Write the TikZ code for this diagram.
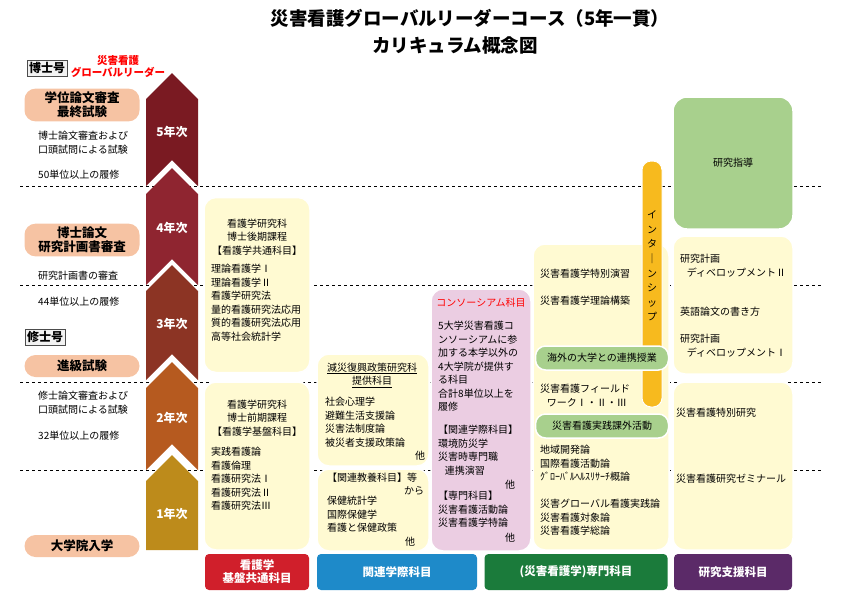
\documentclass[tikz,border=0pt]{standalone}
\usepackage{fontspec}
\setmainfont{Noto Sans CJK JP}
\usetikzlibrary{shadows}

\definecolor{peach}{HTML}{F6C3A3}
\definecolor{cream}{HTML}{FFFAD2}
\definecolor{leaf}{HTML}{A8D08D}
\definecolor{lilac}{HTML}{EBCDE2}
\definecolor{amber}{HTML}{F7BA1E}
\definecolor{yrfive}{HTML}{7A1A22}
\definecolor{yrfour}{HTML}{8F2530}
\definecolor{yrthree}{HTML}{8C3424}
\definecolor{yrtwo}{HTML}{B65A1F}
\definecolor{yrone}{HTML}{BD8B1B}
\definecolor{ftred}{HTML}{D01F2B}
\definecolor{ftblue}{HTML}{1E8AC9}
\definecolor{ftgreen}{HTML}{1B7B3B}
\definecolor{ftpurple}{HTML}{5B2A68}

\tikzset{
	exam/.style={rectangle, rounded corners=11pt, fill=peach, minimum width=115pt, font=\fontsize{12.5}{14}\selectfont\bfseries, align=center},
	degree/.style={rectangle, draw=black!70, fill=black!5, drop shadow={shadow xshift=1pt, shadow yshift=-1pt}, font=\fontsize{12}{13}\selectfont\bfseries, inner sep=2pt},
	note/.style={anchor=north west, align=left, font=\fontsize{10}{13.5}\selectfont, inner sep=0pt},
	panel/.style={rectangle, rounded corners=12pt, fill=cream, draw=white, line width=1.5pt},
	pill/.style={rectangle, rounded corners=10pt, fill=leaf, draw=white, line width=1.5pt, font=\fontsize{10}{11}\selectfont},
	footer/.style={rectangle, rounded corners=4pt, text=white, font=\fontsize{11.5}{13}\selectfont\bfseries, align=center},
	year/.style={text=white, font=\fontsize{12}{14}\selectfont\bfseries}
}

\newcommand{\Chevron}[3]{
	\fill[#3] (146,#1+26) -- (172,#1) -- (198,#1+26) -- (198,#2) -- (172,#2-26) -- (146,#2) -- cycle;
}

\begin{document}
\begin{tikzpicture}[x=1pt, y=-1pt]

\useasboundingbox (0,0) rectangle (842,595);

\node (title1) at (470,18) [font=\fontsize{18.5}{21}\selectfont\bfseries] {災害看護グローバルリーダーコース（5年一貫）};
\node (title2) at (455,45) [font=\fontsize{18.5}{21}\selectfont\bfseries] {カリキュラム概念図};

% year borders
\foreach \y in {186,285,382,470}
	\draw[dashed, thick] (20,\y) -- (822,\y);

% year arrow
\Chevron{73}{186}{yrfive}
\Chevron{168}{285}{yrfour}
\Chevron{265}{380}{yrthree}
\Chevron{362}{470}{yrtwo}
\fill[yrone] (146,481) -- (172,455) -- (198,481) -- (198,550) -- (146,550) -- cycle;
\node (y5) at (172,132) [year] {5年次};
\node (y4) at (172,228) [year] {4年次};
\node (y3) at (172,324) [year] {3年次};
\node (y2) at (172,418) [year] {2年次};
\node (y1) at (172,514) [year] {1年次};

% left side
\node (phd) at (47,68) [degree] {博士号};
\node (leader) at (118,67) [text=red, font=\fontsize{10.5}{12}\selectfont\bfseries, align=center] {災害看護\\グローバルリーダー};
\node (final) at (82,105) [exam] {学位論文審査\\最終試験};
\node (n1) at (38,131) [note] {博士論文審査および\\口頭試問による試験};
\node (n2) at (38,170) [note] {50単位以上の履修};
\node (plan) at (82,240) [exam] {博士論文\\研究計画書審査};
\node (n3) at (38,271) [note] {研究計画書の審査};
\node (n4) at (38,297) [note] {44単位以上の履修};
\node (master) at (45,337) [degree] {修士号};
\node (prog) at (82,366) [exam, minimum height=22pt] {進級試験};
\node (n5) at (38,391) [note] {修士論文審査および\\口頭試問による試験};
\node (n6) at (38,431) [note] {32単位以上の履修};
\node (entry) at (82,546) [exam, minimum height=22pt] {大学院入学};

% common courses
\node (doc) at (257,285) [panel, minimum width=106pt, minimum height=175pt] {};
\node (doct) at (257,237) [align=center, font=\fontsize{10}{13.5}\selectfont] {看護学研究科\\博士後期課程\\【看護学共通科目】};
\node (docl) at (211,264) [note] {理論看護学Ⅰ\\理論看護学Ⅱ\\看護学研究法\\量的看護研究法応用\\質的看護研究法応用\\高等社会統計学};
\node (mas) at (257,466) [panel, minimum width=106pt, minimum height=168pt] {};
\node (mast) at (257,418) [align=center, font=\fontsize{10}{13.5}\selectfont] {看護学研究科\\博士前期課程\\【看護学基盤科目】};
\node (masl) at (211,447) [note] {実践看護論\\看護倫理\\看護研究法Ⅰ\\看護研究法Ⅱ\\看護研究法Ⅲ};

% interdisciplinary courses
\node (gen) at (373,410) [panel, minimum width=112pt, minimum height=112pt] {};
\node (gent) at (372,375) [align=center, font=\fontsize{10}{13.5}\selectfont] {\underline{減災復興政策研究科}\\\underline{提供科目}};
\node (genl) at (325,397) [note] {社会心理学\\避難生活支援論\\災害法制度論\\被災者支援政策論};
\node (geno) at (420,456) [font=\fontsize{10}{11}\selectfont] {他};
\node (lib) at (373,510) [panel, minimum width=112pt, minimum height=82pt] {};
\node (libt) at (372,478) [font=\fontsize{10}{11}\selectfont] {【関連教養科目】等};
\node (libk) at (414,491) [font=\fontsize{10}{11}\selectfont] {から};
\node (libl) at (327,496) [note] {保健統計学\\国際保健学\\看護と保健政策};
\node (libo) at (410,542) [font=\fontsize{10}{11}\selectfont] {他};

% consortium
\node (cons) at (481,420) [rectangle, rounded corners=12pt, fill=lilac, draw=white, line width=1.5pt, minimum width=100pt, minimum height=262pt] {};
\node (const) at (481,303) [text=red, font=\fontsize{10}{11}\selectfont] {コンソーシアム科目};
\node (consl) at (438,321) [note] {5大学災害看護コ\\ンソーシアムに参\\加する本学以外の\\4大学院が提供す\\る科目\\合計8単位以上を\\履修};
\node (consm) at (438,425) [note] {【関連学際科目】\\環境防災学\\災害時専門職\\\ \ \ 連携演習};
\node (conso1) at (510,485) [font=\fontsize{10}{11}\selectfont] {他};
\node (consn) at (438,491) [note] {【専門科目】\\災害看護活動論\\災害看護学特論};
\node (conso2) at (510,538) [font=\fontsize{10}{11}\selectfont] {他};

% disaster nursing courses
\node (spec) at (601,397) [panel, minimum width=136pt, minimum height=306pt] {};
\node (specl1) at (540,269) [note] {災害看護学特別演習};
\node (specl2) at (540,296) [note] {災害看護学理論構築};
\node (intern) at (652,284) [rectangle, rounded corners=9pt, fill=amber, draw=white, line width=1pt, minimum width=20pt, minimum height=246pt] {};
\node (internt) at (652,266) [align=center, font=\fontsize{10}{14.6}\selectfont] {イ\\ン\\タ\\｜\\ン\\シ\\ッ\\プ};
\node (abroad) at (602,358) [pill, minimum width=133pt, minimum height=24pt] {海外の大学との連携授業};
\node (specl3) at (540,384) [note] {災害看護フィールド\\\ \ \ ワークⅠ・Ⅱ・Ⅲ};
\node (extra) at (602,426) [pill, minimum width=133pt, minimum height=24pt] {災害看護実践課外活動};
\node (specl4) at (540,445) [note] {地域開発論\\国際看護活動論\\ｸﾞﾛｰﾊﾞﾙﾍﾙｽﾘｻｰﾁ概論};
\node (specl5) at (540,499) [note] {災害グローバル看護実践論\\災害看護対象論\\災害看護学総論};

% research support
\node (guide) at (733,163) [rectangle, rounded corners=14pt, fill=leaf, draw=white, line width=1.5pt, minimum width=120pt, minimum height=132pt, font=\fontsize{10}{11}\selectfont] {研究指導};
\node (dev) at (733,305) [panel, minimum width=120pt, minimum height=138pt] {};
\node (devl1) at (680,254) [note] {研究計画\\\ \ \ ディベロップメントⅡ};
\node (devl2) at (680,307) [note] {英語論文の書き方};
\node (devl3) at (680,334) [note] {研究計画\\\ \ \ ディベロップメントⅠ};
\node (res) at (733,466) [panel, minimum width=120pt, minimum height=168pt] {};
\node (resl1) at (676,408) [note] {災害看護特別研究};
\node (resl2) at (676,474) [note] {災害看護研究ゼミナール};

% footer
\node (fbase) at (257,572) [footer, fill=ftred, minimum width=104pt, minimum height=36pt] {看護学\\基盤共通科目};
\node (finter) at (397,572) [footer, fill=ftblue, minimum width=160pt, minimum height=36pt] {関連学際科目};
\node (fspec) at (576,572) [footer, fill=ftgreen, minimum width=183pt, minimum height=36pt] {(災害看護学)専門科目};
\node (fres) at (733,572) [footer, fill=ftpurple, minimum width=118pt, minimum height=36pt] {研究支援科目};

\end{tikzpicture}
\end{document}
